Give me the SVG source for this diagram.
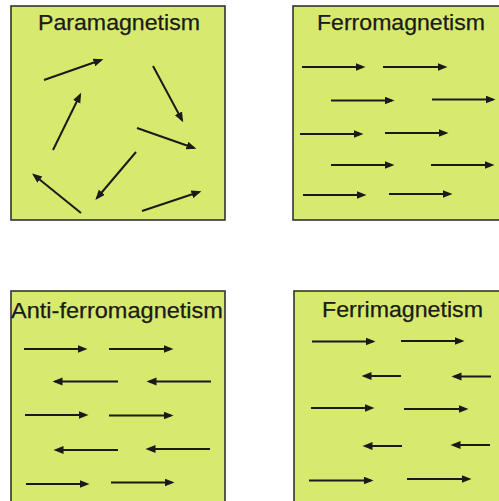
<svg xmlns="http://www.w3.org/2000/svg" width="499" height="501" viewBox="0 0 499 501">
<defs>
<marker id="ah" markerUnits="userSpaceOnUse" markerWidth="11" markerHeight="9" refX="7.5" refY="4" orient="auto">
<path d="M0,0 L10,4 L0,8 z" fill="#1a1a1a"/>
</marker>
</defs>
<style>
.box{fill:#d7ea6e;stroke:#333;stroke-width:1.6}
.t{font-family:"Liberation Sans",Arial,sans-serif;font-size:21.5px;fill:#1a1a1a;stroke:#1a1a1a;stroke-width:0.25}
.a line{stroke:#1a1a1a;stroke-width:2;marker-end:url(#ah)}
</style>
<rect width="499" height="501" fill="#fff"/>
<g id="para">
<rect class="box" x="11" y="6" width="214" height="214"/>
<text class="t" x="38" y="30" textLength="162" lengthAdjust="spacingAndGlyphs">Paramagnetism</text>
</g>
<g id="ferro">
<rect class="box" x="293" y="6" width="220" height="214"/>
<text class="t" x="317" y="30" textLength="168" lengthAdjust="spacingAndGlyphs">Ferromagnetism</text>
</g>
<g id="antiferro">
<rect class="box" x="11" y="291" width="214" height="230"/>
<text class="t" x="11" y="318" textLength="212" lengthAdjust="spacingAndGlyphs">Anti-ferromagnetism</text>
</g>
<g id="ferri">
<rect class="box" x="294" y="291" width="220" height="230"/>
<text class="t" x="322" y="317" textLength="161" lengthAdjust="spacingAndGlyphs">Ferrimagnetism</text>
</g>
<g id="connectors" class="a">
<line x1="44" y1="80" x2="101" y2="60"/>
<line x1="153" y1="66" x2="182" y2="120"/>
<line x1="53" y1="150" x2="80" y2="95"/>
<line x1="137" y1="128" x2="194" y2="148"/>
<line x1="136" y1="152" x2="97" y2="198"/>
<line x1="81" y1="213" x2="34" y2="175"/>
<line x1="142" y1="211" x2="199" y2="192"/>

<line x1="302" y1="67" x2="363" y2="67"/>
<line x1="383" y1="67" x2="445" y2="67"/>
<line x1="331" y1="100.5" x2="392" y2="100.5"/>
<line x1="432" y1="99.5" x2="493" y2="99.5"/>
<line x1="300" y1="134" x2="361" y2="134"/>
<line x1="385" y1="133" x2="446" y2="133"/>
<line x1="331" y1="165" x2="392" y2="165"/>
<line x1="431" y1="165" x2="492" y2="165"/>
<line x1="303" y1="195" x2="364" y2="195"/>
<line x1="389" y1="194" x2="450" y2="194"/>

<line x1="24" y1="349" x2="85" y2="349"/>
<line x1="109" y1="349" x2="171" y2="349"/>
<line x1="118" y1="381.5" x2="55" y2="381.5"/>
<line x1="211" y1="381.5" x2="149" y2="381.5"/>
<line x1="25" y1="415" x2="86" y2="415"/>
<line x1="109" y1="415.5" x2="171" y2="415.5"/>
<line x1="118" y1="450" x2="56" y2="450"/>
<line x1="210" y1="449" x2="148" y2="449"/>
<line x1="26" y1="484" x2="87" y2="484"/>
<line x1="111" y1="482.5" x2="172" y2="482.5"/>

<line x1="312" y1="341.5" x2="373" y2="341.5"/>
<line x1="401" y1="341" x2="462" y2="341"/>
<line x1="401" y1="376" x2="364" y2="376"/>
<line x1="491" y1="376.5" x2="454" y2="376.5"/>
<line x1="311" y1="408" x2="372" y2="408"/>
<line x1="404" y1="409" x2="466" y2="409"/>
<line x1="402" y1="446" x2="365" y2="446"/>
<line x1="490" y1="445" x2="453" y2="445"/>
<line x1="309" y1="480.5" x2="371" y2="480.5"/>
<line x1="407" y1="479" x2="469" y2="479"/>
</g>
</svg>
